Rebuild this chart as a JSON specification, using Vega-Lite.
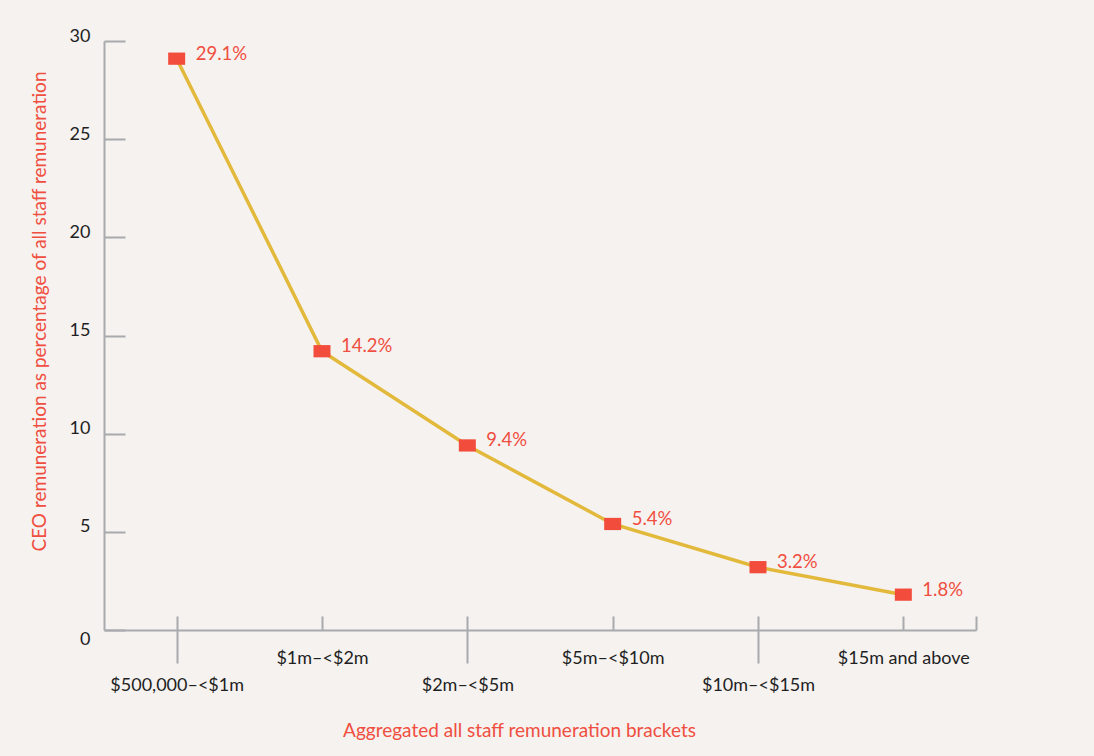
{
  "$schema": "https://vega.github.io/schema/vega-lite/v6.json",
  "width": 872,
  "height": 589,
  "autosize": "none",
  "padding": {"left": 104, "top": 41, "right": 118, "bottom": 126},
  "background": "#F5F2EF",
  "config": {
    "view": {"stroke": null},
    "font": "Lato",
    "axis": {
      "grid": false,
      "domainColor": "#A9AAAD",
      "domainWidth": 2,
      "tickColor": "#A9AAAD",
      "tickWidth": 2,
      "gridColor": "#A9AAAD",
      "gridWidth": 2,
      "gridOpacity": 1,
      "labelFont": "Lato",
      "labelFontSize": 18,
      "labelColor": "#1F1F1F",
      "titleFont": "Lato",
      "titleFontSize": 19,
      "titleFontWeight": "normal",
      "titleColor": "#F04E40"
    }
  },
  "data": {
    "values": [
      {"bracket": "$500,000–<$1m", "pct": 29.1},
      {"bracket": "$1m–<$2m", "pct": 14.2},
      {"bracket": "$2m–<$5m", "pct": 9.4},
      {"bracket": "$5m–<$10m", "pct": 5.4},
      {"bracket": "$10m–<$15m", "pct": 3.2},
      {"bracket": "$15m and above", "pct": 1.8}
    ]
  },
  "resolve": {"axis": {"y": "independent"}},
  "layer": [
    {
      "mark": {"type": "line", "color": "#E3B93C", "strokeWidth": 3.5},
      "encoding": {
        "x": {
          "field": "bracket",
          "type": "nominal",
          "sort": null,
          "scale": {"type": "point", "padding": 0.5},
          "axis": {
            "title": "Aggregated all staff remuneration brackets",
            "titlePadding": 27,
            "titleX": 415,
            "labelAngle": 0,
            "grid": true,
            "gridDash": [0, 575, 14, 2000],
            "tickSize": {
              "condition": {"test": "indexof(['$500,000–<$1m','$2m–<$5m','$10m–<$15m'], datum.value) >= 0", "value": 33},
              "value": 0
            },
            "labelBaseline": "top",
            "labelPadding": {
              "condition": {"test": "indexof(['$500,000–<$1m','$2m–<$5m','$10m–<$15m'], datum.value) >= 0", "value": 13},
              "value": 19
            }
          }
        },
        "y": {
          "field": "pct",
          "type": "quantitative",
          "scale": {"domain": [0, 30], "nice": false},
          "axis": {
            "title": "CEO remuneration as percentage of all staff remuneration",
            "titlePadding": 20,
            "titleY": 270,
            "values": [0, 5, 10, 15, 20, 25, 30],
            "ticks": false,
            "grid": true,
            "gridDash": [21, 2000],
            "labelPadding": 14,
            "labelBaseline": {
              "condition": {"test": "datum.value == 0", "value": "top"},
              "value": "alphabetic"
            }
          }
        }
      }
    },
    {
      "mark": {"type": "point", "shape": "M-1,-0.72H1V0.72H-1Z", "filled": true, "color": "#F24C3D", "opacity": 1, "size": 289},
      "encoding": {
        "x": {"field": "bracket", "type": "nominal", "sort": null},
        "y": {
          "field": "pct",
          "type": "quantitative",
          "axis": {
            "orient": "right",
            "title": null,
            "labels": false,
            "ticks": false,
            "domainDash": [14, 2000]
          }
        }
      }
    },
    {
      "transform": [{"calculate": "format(datum.pct, '.1f') + '%'", "as": "label"}],
      "mark": {"type": "text", "align": "left", "baseline": "middle", "dx": 19, "dy": -5, "font": "Lato", "fontSize": 18.5, "color": "#F04E40"},
      "encoding": {
        "x": {"field": "bracket", "type": "nominal", "sort": null},
        "y": {"field": "pct", "type": "quantitative", "axis": null},
        "text": {"field": "label", "type": "nominal"}
      }
    }
  ]
}
